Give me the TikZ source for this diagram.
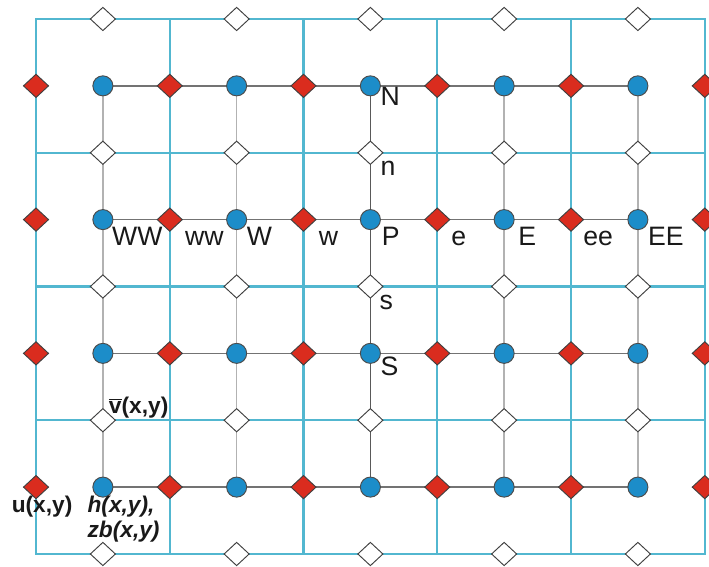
\documentclass[tikz,border=0pt]{standalone}
\usepackage{fontspec}
\setmainfont{Liberation Sans}
\usepackage{xcolor}
\definecolor{gridcyan}{RGB}{82,183,208}
\definecolor{hblue}{RGB}{28,141,201}
\definecolor{ured}{RGB}{218,44,30}
\usepackage{tikz}
\usetikzlibrary{shapes.geometric,positioning,calc,backgrounds}

\begin{document}
\begin{tikzpicture}[x=3cm,y=3cm,
  hpt/.style={circle,draw=black!70,line width=0.6pt,fill=hblue,minimum size=0.45cm,inner sep=0pt},
  upt/.style={diamond,draw=black!75,line width=0.6pt,fill=ured,minimum width=0.57cm,minimum height=0.53cm,inner sep=0pt},
  vpt/.style={upt,fill=white},
  lbl/.style={anchor=base west,inner sep=0pt,text=black!90,font=\fontsize{17}{20}\selectfont},
  var/.style={anchor=base west,inner sep=0pt,text=black!90,font=\fontsize{14.5}{17}\selectfont\bfseries}]
  \useasboundingbox (-0.2692,-0.0972) rectangle (5.0318,4.142);

  % h points (cell centres)
  \foreach \i in {0,...,4}
    \foreach \j in {0,...,3}
      \node[hpt] (h\i\j) at (\i+0.5,\j+0.5) {};

  % u points (east/west faces)
  \foreach \i in {0,...,5}
    \foreach \j in {0,...,3}
      \node[upt] (u\i\j) at (\i,\j+0.5) {};

  % v points (north/south faces)
  \foreach \i in {0,...,4}
    \foreach \j in {0,...,4}
      \node[vpt] (v\i\j) at (\i+0.5,\j) {};

  % Grids
  \begin{scope}[on background layer]
    \foreach \i in {1,...,4}
      \draw[gridcyan,line width=1.3pt] (\i,0) -- (\i,4);
    \foreach \j in {1,...,3}
      \draw[gridcyan,line width=1.3pt] (0,\j) -- (5,\j);
    \draw[gridcyan,line width=1.3pt] (0,0) rectangle (5,4);
    \foreach \j in {0,...,3}
      \draw[black!55,line width=0.9pt] (h0\j.center) -- (h4\j.center);
    \foreach \i in {0,1,3,4}
      \draw[black!30,line width=0.9pt] (h\i0.center) -- (h\i3.center);
    \draw[black!65,line width=0.9pt] (h20.center) -- (h23.center);
  \end{scope}

  % Stencil labels
  \foreach \p/\t/\dx in {h02/WW/0.20cm, u12/ww/0.34cm, h12/W/0.22cm, u22/w/0.34cm,
      h22/P/0.25cm, u32/e/0.31cm, h32/E/0.31cm, u42/ee/0.27cm, h42/EE/0.22cm}
    \node[lbl] (l\t) at ($(\p)+(\dx,-0.58cm)$) {\t};
  \node[lbl] (lN) at ($(h23)+(0.22cm,-0.45cm)$) {N};
  \node[lbl] (ln) at ($(v23)+(0.22cm,-0.52cm)$) {n};
  \node[lbl] (ls) at ($(v22)+(0.20cm,-0.52cm)$) {s};
  \node[lbl] (lS) at ($(h21)+(0.22cm,-0.49cm)$) {S};

  % Variables
  \node[var] (lv) at ($(v01)+(0.13cm,0.16cm)$) {$\overline{\mbox{v}}$(x,y)};
  \node[var] (lu) at ($(u00)+(-0.55cm,-0.58cm)$) {u(x,y)};
  \node[var,font=\fontsize{14.5}{17}\selectfont\bfseries\itshape] (lh) at ($(h00)+(-0.35cm,-0.58cm)$) {h(x,y),};
  \node[var,font=\fontsize{14.5}{17}\selectfont\bfseries\itshape] (lzb) at ($(lh.base west)+(0,-0.56cm)$) {zb(x,y)};
\end{tikzpicture}
\end{document}
